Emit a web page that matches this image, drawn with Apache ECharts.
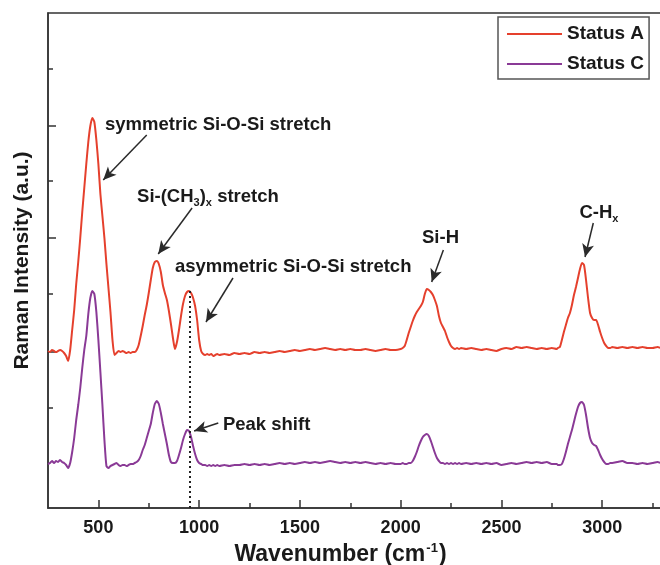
<!DOCTYPE html>
<html>
<head>
<meta charset="utf-8">
<script src="https://cdn.jsdelivr.net/npm/echarts@6/dist/echarts.min.js"></script>
<style>
html,body{margin:0;padding:0;background:#fff;}
#chart{width:660px;height:565px;}
</style>
</head>
<body>
<div id="chart"></div>
<script>
// Wavenumber samples (cm-1)
const wavenumber = [
  250,260,270,280,290,300,310,320,330,340,
  350,360,370,380,390,400,410,420,430,440,
  450,460,470,480,490,500,510,520,530,540,
  550,560,570,580,590,600,610,620,630,640,
  650,660,670,680,690,700,710,720,730,740,
  750,760,770,780,790,800,810,820,830,840,
  850,860,870,880,890,900,910,920,930,940,
  950,960,970,980,990,1000,1010,1020,1030,1040,
  1050,1060,1070,1080,1090,1100,
  1125,1150,1175,1200,1225,1250,1275,1300,1325,1350,
  1375,1400,1425,1450,1475,1500,1525,1550,1575,1600,
  1625,1650,1675,1700,1725,1750,1775,1800,1825,1850,
  1875,1900,1925,1950,1975,2000,
  2010,2020,2030,2040,2050,2060,2070,2080,2090,2100,
  2110,2120,2130,2140,2150,2160,2170,2180,2190,2200,
  2210,2220,2230,2240,2250,2260,2270,2280,2290,2300,
  2325,2350,2375,2400,2425,2450,2475,2500,2525,2550,
  2575,2600,2625,2650,2675,2700,2725,2750,2775,
  2780,2790,2800,2810,2820,2830,2840,2850,2860,2870,
  2880,2890,2900,2910,2920,2930,2940,2950,2960,2970,
  2980,2990,3000,3010,3020,3030,3040,3050,
  3075,3100,3125,3150,3175,3200,3225,3250,3275,3290
];

// Raman intensity (a.u., offset traces)
const statusA = [
  157,156,158,157,156,157,158,157,155,152,
  147,158,178,198,224,246,270,296,320,344,
  366,382,390,386,368,344,314,292,270,244,
  220,196,168,153,155,157,156,157,156,155,
  156,155,156,156,158,163,172,182,193,203,
  215,228,240,246,247,244,236,223,215,208,
  197,184,170,159,166,178,192,204,212,216,
  217,215,210,202,188,168,157,154,153,154,
  153,154,152,153,154,153,
  154,153,155,154,155,154,156,155,156,155,
  156,157,156,157,158,157,158,159,158,159,
  160,159,158,159,158,159,158,158,159,158,
  157,158,159,158,158,159,
  160,162,168,175,181,187,192,196,199,202,
  206,214,219,218,216,213,208,202,192,185,
  181,177,171,166,162,160,159,160,159,160,
  159,160,159,158,159,158,157,159,160,159,
  161,160,161,160,159,160,159,160,159,
  160,161,168,176,183,190,195,203,213,221,
  230,239,245,243,228,210,195,190,188,188,
  183,176,170,165,162,160,160,161,
  160,161,160,161,160,161,160,160,161,160
];

const statusC = [
  44,45,47,45,47,46,48,46,45,43,
  40,45,56,70,88,103,120,140,158,172,
  194,210,217,214,196,168,136,103,68,42,
  40,42,43,44,45,43,42,43,43,42,
  43,44,44,45,46,48,52,58,63,70,
  77,84,95,104,107,104,95,84,74,64,
  53,46,45,45,47,53,60,68,74,78,
  77,71,62,54,48,45,44,43,43,42,
  43,42,43,42,43,42,
  43,42,43,43,44,43,44,43,44,43,
  44,45,44,45,44,45,46,45,46,45,
  46,47,46,45,46,45,46,45,46,45,
  44,45,44,45,44,44,
  45,44,44,45,45,47,51,56,62,67,
  71,73,74,72,67,61,55,50,47,45,
  45,44,45,44,45,44,45,44,45,44,
  45,44,45,44,45,44,45,43,44,45,
  44,45,46,45,46,45,46,44,44,
  43,43,44,49,56,64,71,78,86,94,
  101,105,106,103,93,80,70,65,63,62,
  58,53,49,46,44,44,45,45,
  46,47,45,45,44,45,44,45,46,45
];

const seriesNames = ['Status A', 'Status C'];
const xTickLabels = [500, 1000, 1500, 2000, 2500, 3000];
const xMinorTicks = [750, 1250, 1750, 2250, 2750, 3250];
const yMajorTicks = [156, 270, 382];
const yMinorTicks = [100, 214, 327, 439];

// Annotation texts anchored at data coordinates [wavenumber, intensity]
const annotationTexts = [
  { pos: [533, 383],  text: 'symmetric Si-O-Si stretch' },
  { pos: [692, 311],  text: '{m|Si-(CH}{s|3}{m|)}{s|x}{m| stretch}' },
  { pos: [880, 241],  text: 'asymmetric Si-O-Si stretch' },
  { pos: [2106, 270], text: 'Si-H' },
  { pos: [2887, 295], text: '{m|C-H}{s|x}' },
  { pos: [1118, 83],  text: 'Peak shift' }
];
// Arrows: [tail, head] in data coordinates
const arrows = [
  [[740, 373], [524, 328]],
  [[965, 300], [797, 254]],
  [[1168, 230], [1034, 186]],
  [[2212, 258], [2154, 226]],
  [[2956, 285], [2915, 251]],
  [[1095, 85], [975, 77]]
];
const peakShiftLine = [[952, 217], [952, 0]];

const colors = ['#e5402d', '#8a3a96'];
const FONT = '"Liberation Sans", Arial, sans-serif';
const ink = '#1a1a1a';

const chart = echarts.init(document.getElementById('chart'), null, { renderer: 'canvas' });

const option = {
  animation: false,
  backgroundColor: '#fff',
  textStyle: { fontFamily: FONT },
  grid: {
    left: 48, top: 13, width: 613, bottom: 57,
    outerBoundsMode: 'none', containLabel: false,
    show: true, borderColor: '#333', borderWidth: 1.5, backgroundColor: 'transparent'
  },
  legend: {
    data: seriesNames,
    orient: 'vertical',
    left: 498, top: 17,
    padding: [6, 5, 4, 9],
    itemGap: 8,
    itemWidth: 55,
    itemHeight: 2,
    icon: 'rect',
    borderColor: '#555',
    borderWidth: 1.5,
    borderRadius: 0,
    backgroundColor: '#fff',
    textStyle: { fontFamily: FONT, fontSize: 19, fontWeight: 'bold', color: ink, lineHeight: 22 }
  },
  xAxis: [
    {
      type: 'value', min: 250, max: 3292,
      name: '{t|Wavenumber (cm}{sup|-1}{t|)}',
      nameLocation: 'middle', nameGap: 31,
      nameTextStyle: {
        padding: [0, 28, 0, 0],
        rich: {
          t: { fontFamily: FONT, fontSize: 23, fontWeight: 'bold', color: ink, lineHeight: 26 },
          sup: { fontFamily: FONT, fontSize: 13, fontWeight: 'bold', color: ink, lineHeight: 13, padding: [0, 1, 13, 1] }
        }
      },
      axisLine: { show: true, lineStyle: { color: '#333', width: 1.5 } },
      axisTick: { show: true, inside: true, length: 8, customValues: xTickLabels, lineStyle: { color: '#333', width: 1.5 } },
      axisLabel: {
        show: true, customValues: xTickLabels, formatter: v => String(v),
        fontFamily: FONT, fontSize: 18, fontWeight: 'bold', color: ink, margin: 11
      },
      splitLine: { show: false }
    },
    {
      type: 'value', min: 250, max: 3292, position: 'bottom', offset: 0, gridIndex: 0,
      axisLine: { show: false },
      axisTick: { show: true, inside: true, length: 5, customValues: xMinorTicks, lineStyle: { color: '#333', width: 1.5 } },
      axisLabel: { show: false },
      splitLine: { show: false }
    }
  ],
  yAxis: [
    {
      type: 'value', min: 0, max: 495,
      name: 'Raman Intensity (a.u.)',
      nameLocation: 'middle', nameGap: 15,
      nameTextStyle: { fontFamily: FONT, fontSize: 21, fontWeight: 'bold', color: ink },
      axisLine: { show: true, lineStyle: { color: '#333', width: 1.5 } },
      axisTick: { show: true, inside: true, length: 8, customValues: yMajorTicks, lineStyle: { color: '#333', width: 1.5 } },
      axisLabel: { show: false },
      splitLine: { show: false }
    },
    {
      type: 'value', min: 0, max: 495, position: 'left', offset: 0, gridIndex: 0,
      axisLine: { show: false },
      axisTick: { show: true, inside: true, length: 5, customValues: yMinorTicks, lineStyle: { color: '#333', width: 1.5 } },
      axisLabel: { show: false },
      splitLine: { show: false }
    }
  ],
  series: [
    {
      name: seriesNames[0], type: 'line', xAxisIndex: 0, yAxisIndex: 0,
      data: wavenumber.map((w, i) => [w, statusA[i]]),
      symbol: 'none', smooth: 0.2,
      color: colors[0],
      lineStyle: { color: colors[0], width: 2 },
      z: 3
    },
    {
      name: seriesNames[1], type: 'line', xAxisIndex: 0, yAxisIndex: 0,
      data: wavenumber.map((w, i) => [w, statusC[i]]),
      symbol: 'none', smooth: 0.2,
      color: colors[1],
      lineStyle: { color: colors[1], width: 2 },
      z: 3
    },
    {
      name: 'annotations', type: 'scatter', xAxisIndex: 0, yAxisIndex: 0,
      symbolSize: 0, silent: true, z: 5,
      itemStyle: { opacity: 1 },
      data: annotationTexts.map(a => ({ value: a.pos, name: a.text })),
      label: {
        show: true, position: 'right', distance: 0, opacity: 1,
        formatter: p => p.name,
        fontFamily: FONT, fontSize: 18.5, fontWeight: 'bold', color: ink,
        rich: {
          m: { fontFamily: FONT, fontSize: 18.5, fontWeight: 'bold', color: ink, lineHeight: 22 },
          s: { fontFamily: FONT, fontSize: 11, fontWeight: 'bold', color: ink, lineHeight: 11, padding: [11, 0, 0, 0] }
        }
      },
      markLine: {
        silent: true,
        symbol: ['none', 'arrow'],
        symbolSize: 11,
        label: { show: false },
        lineStyle: { color: '#2a2a2a', width: 1.5, type: 'solid', opacity: 1 },
        itemStyle: { color: '#2a2a2a', opacity: 1 },
        data: arrows.map(a => [
          { coord: a[0], symbol: 'none' },
          { coord: a[1], symbol: 'arrow', symbolSize: [9, 13] }
        ]).concat([
          [
            { coord: peakShiftLine[0], symbol: 'none', lineStyle: { color: '#222', width: 2, type: [2, 3] } },
            { coord: peakShiftLine[1], symbol: 'none' }
          ]
        ])
      }
    }
  ]
};

chart.setOption(option);
</script>
</body>
</html>
